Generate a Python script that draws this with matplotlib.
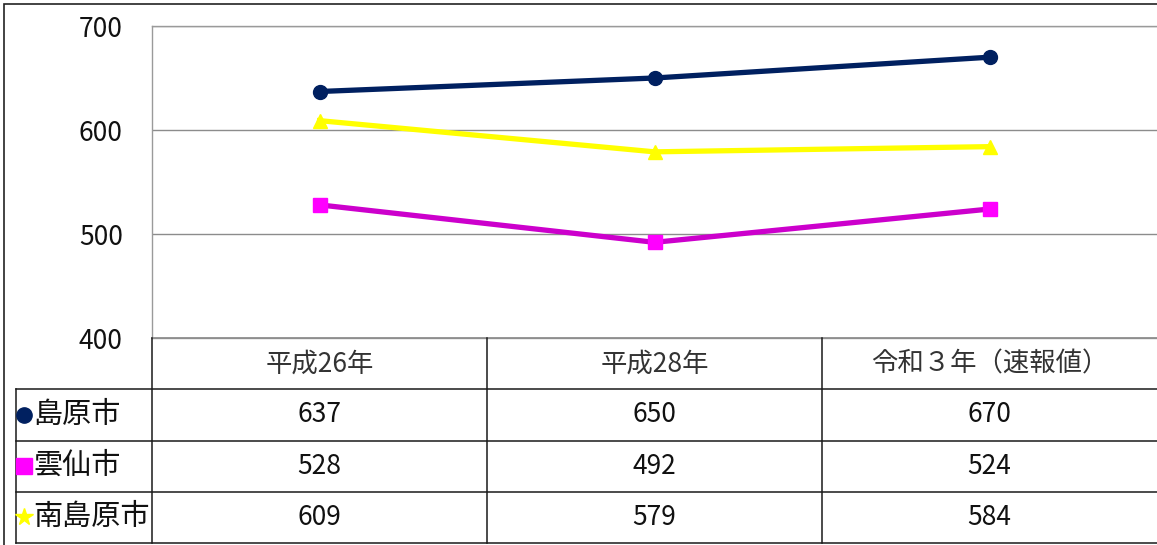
import matplotlib
matplotlib.use("Agg")
import matplotlib.pyplot as plt
from matplotlib.patches import Rectangle

plt.rcParams['font.family'] = ['Noto Sans CJK JP', 'DejaVu Sans']

categories = ["平成26年", "平成28年", "令和３年（速報値）"]
series_names = ["島原市", "雲仙市", "南島原市"]
shimabara = [637, 650, 670]
unzen = [528, 492, 524]
minamishimabara = [609, 579, 584]
yticks = [400, 500, 600, 700]

series = [shimabara, unzen, minamishimabara]
line_colors = ["#002060", "#CC00CC", "#FFFF00"]
marker_colors = ["#002060", "#FF00FF", "#FFFF00"]
markers = ["o", "s", "^"]
legend_markers = ["o", "s", "*"]

W, H = 1157, 545
fig = plt.figure(figsize=(W / 100, H / 100), dpi=100)

def fx(px):
    return px / W

def fy(py):
    return 1 - py / H

# outer border
fig.patches.append(Rectangle((fx(4), fy(560)), fx(1170), fy(4) - fy(560),
                             transform=fig.transFigure, fill=False,
                             edgecolor="#222222", lw=1.2))

left, right, top, bottom = 152, 1157, 26, 338
ax = fig.add_axes([fx(left), fy(bottom), fx(right) - fx(left), fy(top) - fy(bottom)])
ax.set_xlim(0, len(categories))
ax.set_ylim(400, 700)
xs = [i + 0.5 for i in range(len(categories))]
for vals, lc, mc, m in zip(series, line_colors, marker_colors, markers):
    ax.plot(xs, vals, color=lc, lw=3.8, marker=m, markersize=10,
            markerfacecolor=mc, markeredgecolor=mc, zorder=3)
ax.set_yticks(yticks)
ax.set_yticklabels([str(v) for v in yticks], fontsize=19, color="#111111")
ax.tick_params(axis='y', length=0, pad=21)
ax.set_xticks([])
ax.grid(axis='y', color="#8C8C8C", lw=1.0)
for s in ax.spines.values():
    s.set_color("#9A9A9A")
    s.set_linewidth(1.0)
ax.spines['right'].set_visible(False)

# data table
tax = fig.add_axes([fx(left), fy(543), fx(right) - fx(left), fy(338) - fy(543)])
tax.set_xlim(0, len(categories))
tax.set_ylim(len(series) + 1, 0)
tax.axis('off')

def px2x(px):
    return (px - left) / (right - left) * len(categories)

lc_tab = "#1A1A1A"
tax.plot([0, 3], [0, 0], color="#8C8C8C", lw=1.2, clip_on=False)
label_left = px2x(16)
for r in range(1, len(series) + 2):
    tax.plot([label_left, 3], [r, r], color=lc_tab, lw=1.1, clip_on=False)
for c in range(0, len(categories)):
    tax.plot([c, c], [0, len(series) + 1], color=lc_tab, lw=1.1, clip_on=False)
tax.plot([label_left, label_left], [1, len(series) + 1], color=lc_tab, lw=1.1, clip_on=False)

for i, cat in enumerate(categories):
    tax.text(i + 0.5, 0.5, cat, ha='center', va='center', fontsize=19, color="#333333")
for r, (name, vals) in enumerate(zip(series_names, series)):
    yy = r + 1.5
    for i, v in enumerate(vals):
        tax.text(i + 0.5, yy, str(v), ha='center', va='center', fontsize=19, color="#111111")
    tax.plot([px2x(24)], [yy], marker=legend_markers[r],
             markersize=13 if r == 2 else 11,
             color=marker_colors[r], clip_on=False, zorder=5)
    tax.text(px2x(33), yy, name, ha='left', va='center',
             fontsize=21, color="#111111")

fig.savefig("out.png", dpi=100)
